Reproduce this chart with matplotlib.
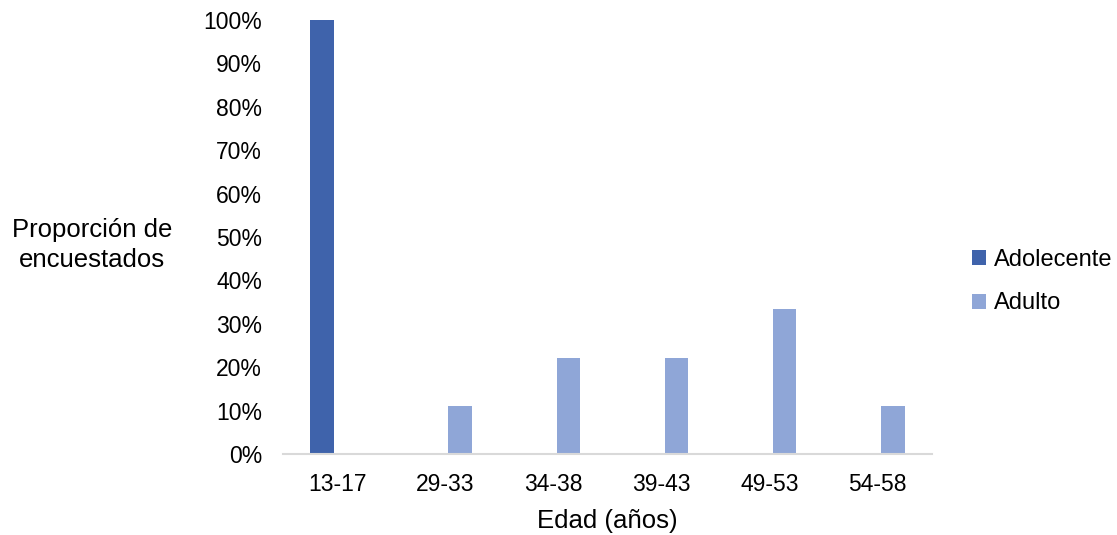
import matplotlib.pyplot as plt
import numpy as np
from matplotlib.ticker import PercentFormatter

plt.rcParams['font.family'] = ['Liberation Sans', 'DejaVu Sans']

categorias = ['13-17', '29-33', '34-38', '39-43', '49-53', '54-58']
adolecente = [100, 0, 0, 0, 0, 0]
adulto = [0, 11.1, 22.2, 22.2, 33.3, 11.1]

fig = plt.figure(figsize=(11.17, 5.35), dpi=100)
ax = fig.add_axes([0.2534, 0.1514, 0.5806, 0.8112])

x = np.arange(len(categorias))
ancho = 0.22
ax.bar(x - 0.14, adolecente, ancho, color='#3F63AB', label='Adolecente')
ax.bar(x + 0.14, adulto, ancho, color='#8FA6D7', label='Adulto')

ax.set_xlim(-0.5, len(categorias) - 0.5)
ax.set_ylim(0, 100)
ax.set_yticks(np.arange(0, 101, 10))
ax.yaxis.set_major_formatter(PercentFormatter(decimals=0))
ax.set_xticks(x)
ax.set_xticklabels(categorias)
ax.tick_params(axis='both', length=0, labelsize=16.5, colors='#000000')
ax.tick_params(axis='y', pad=15)
ax.tick_params(axis='x', pad=14)

for lado in ['top', 'right', 'left']:
    ax.spines[lado].set_visible(False)
ax.spines['bottom'].set_color('#D9D9D9')
ax.spines['bottom'].set_linewidth(1.5)

ax.set_xlabel('Edad (años)', fontsize=18.5, labelpad=9)
fig.text(0.0824, 0.542, 'Proporción de\nencuestados', fontsize=18.5,
         ha='center', va='center', linespacing=1.35)

ax.legend(loc='center left', bbox_to_anchor=(1.03, 0.397), frameon=False,
          fontsize=17, handlelength=0.6, handleheight=0.6, handletextpad=0.3,
          labelspacing=0.9)

fig.savefig('out.png', dpi=100)
